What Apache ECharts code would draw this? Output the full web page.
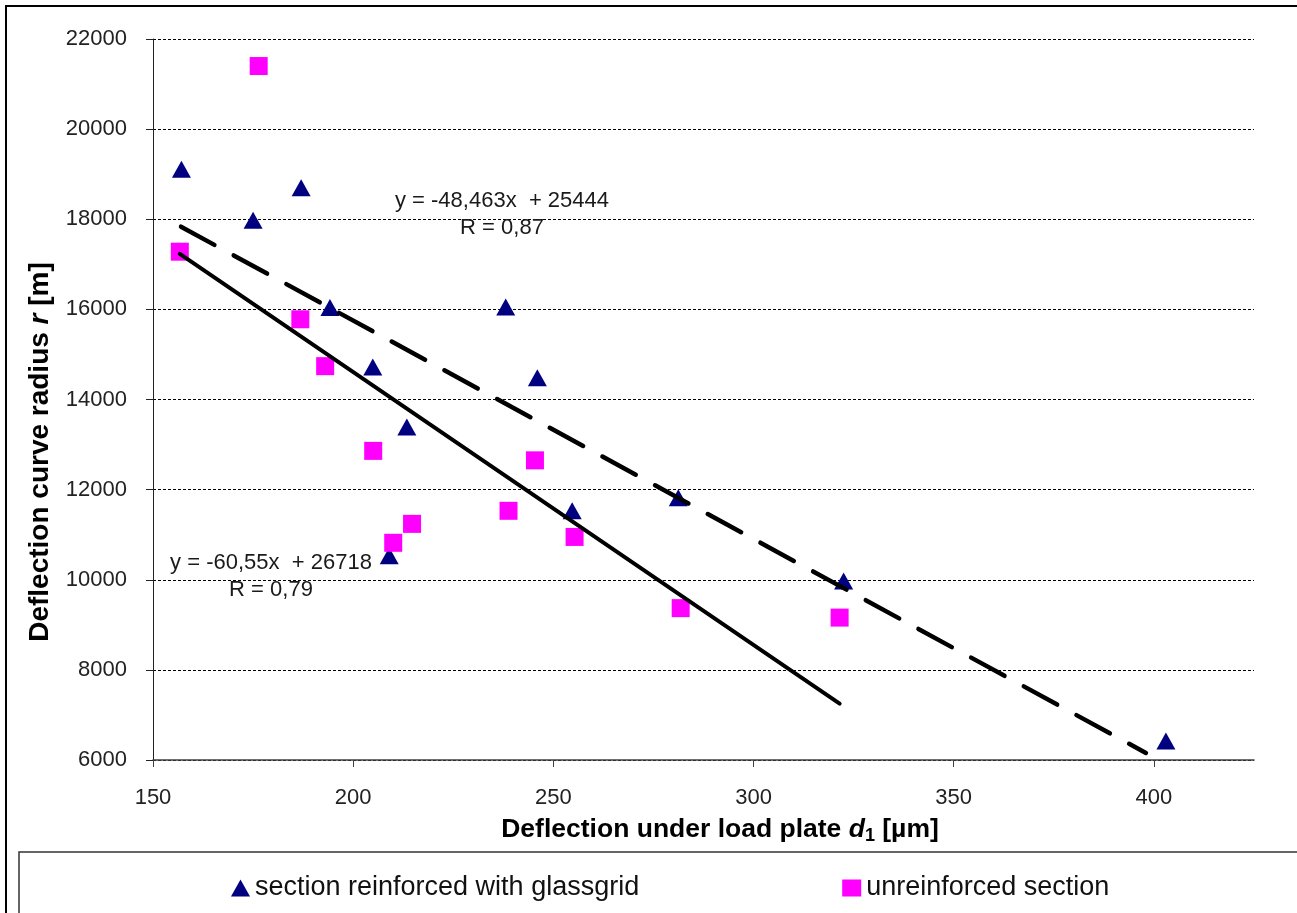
<!DOCTYPE html>
<html><head><meta charset="utf-8">
<script src="https://cdn.jsdelivr.net/npm/echarts@6/dist/echarts.min.js"></script>
<style>html,body{margin:0;padding:0;background:#fff}#chart{width:1297px;height:913px}</style>
</head><body><div id="chart"></div>
<script>
// ---- data ----
const reinforcedName = 'section reinforced with glassgrid';
const unreinforcedName = 'unreinforced section';
const reinforcedX = [157.1, 175.0, 187.0, 194.2, 204.9, 209.0, 213.4, 238.1, 246.0, 254.7, 281.2, 322.5, 403.0];
const reinforcedY = [19110, 17980, 18700, 16040, 14720, 10530, 13390, 16050, 14480, 11530, 11820, 9970, 6420];
const unreinforcedX = [156.7, 176.4, 186.8, 193.0, 205.0, 210.0, 214.7, 238.8, 245.4, 255.3, 281.8, 321.5];
const unreinforcedY = [17280, 21400, 15780, 14740, 12860, 10820, 11240, 11530, 12650, 10950, 9370, 9160];
const trendReinforcedCoef = [-48.463, 25444];   // slope, intercept (dashed)
const trendReinforcedRange = [157, 398];
const trendUnreinforcedCoef = [-60.55, 26718];  // slope, intercept (solid)
const trendUnreinforcedRange = [156.7, 321.5];
const eqReinforced = ['y = -48,463x  + 25444', 'R = 0,87'];
const eqUnreinforced = ['y = -60,55x  + 26718', 'R = 0,79'];
const xTicks = [150, 200, 250, 300, 350, 400];
const yTicks = [6000, 8000, 10000, 12000, 14000, 16000, 18000, 20000, 22000];

const FONT = '"Liberation Sans", Arial, sans-serif';
const zip = (xs, ys) => xs.map((x, i) => [x, ys[i]]);
const trend = (coef, range) => range.map(x => [x, coef[0] * x + coef[1]]);

const chart = echarts.init(document.getElementById('chart'), null, {renderer: 'canvas'});
chart.setOption({
  animation: false,
  backgroundColor: '#fff',
  grid: {left: 153, top: 39, right: 43, bottom: 153, containLabel: false},
  xAxis: {
    type: 'value', min: 150, max: 425, interval: 50,
    axisLine: {show: true, lineStyle: {color: '#404040', width: 1.5}},
    axisTick: {show: true, length: 7, customValues: xTicks, lineStyle: {color: '#404040', width: 1}},
    axisLabel: {customValues: xTicks, margin: 27, color: '#222', fontSize: 22, fontFamily: FONT,
                formatter: v => String(v)},
    splitLine: {show: false}
  },
  yAxis: {
    type: 'value', min: 6000, max: 22000, interval: 2000,
    axisLine: {show: true, lineStyle: {color: '#222', width: 1}},
    axisTick: {show: true, length: 7, customValues: yTicks, lineStyle: {color: '#222', width: 1}},
    axisLabel: {customValues: yTicks, margin: 26, color: '#222', fontSize: 22, fontFamily: FONT,
                formatter: v => String(v)},
    splitLine: {show: true, lineStyle: {color: '#000', width: 1, type: [3, 2]}}
  },
  legend: {
    data: [reinforcedName, unreinforcedName],
    left: 226, top: 869, itemGap: 203, itemWidth: 19, itemHeight: 17,
    textStyle: {fontSize: 27, fontFamily: FONT, color: '#111', lineHeight: 28}
  },
  series: [
    {name: reinforcedName, type: 'scatter', symbol: 'triangle', symbolSize: [19, 17], z: 2,
     itemStyle: {color: '#000080', opacity: 1}, data: zip(reinforcedX, reinforcedY)},
    {name: unreinforcedName, type: 'scatter', symbol: 'rect', symbolSize: 18, z: 2,
     itemStyle: {color: '#FF00FF', opacity: 1}, data: zip(unreinforcedX, unreinforcedY)},
    {name: 'trend reinforced', type: 'line', symbol: 'none', z: 4, silent: true,
     lineStyle: {color: '#000', width: 4.5, type: [38, 22], cap: 'round'},
     data: trend(trendReinforcedCoef, trendReinforcedRange)},
    {name: 'trend unreinforced', type: 'line', symbol: 'none', z: 4, silent: true,
     lineStyle: {color: '#000', width: 4, cap: 'round'},
     data: trend(trendUnreinforcedCoef, trendUnreinforcedRange)}
  ],
  graphic: [
    {type: 'rect', z: -10, shape: {x: 6, y: 6, width: 1400, height: 1000},
     style: {fill: 'none', stroke: '#000', lineWidth: 2}},
    {type: 'rect', z: -10, shape: {x: 19, y: 852, width: 1400, height: 200},
     style: {fill: 'none', stroke: '#333', lineWidth: 1.5}},
    {type: 'text', x: 502, y: 214, z: 10,
     style: {text: eqReinforced.join('\n'), fontSize: 22, fontFamily: FONT, fill: '#1a1a1a',
             align: 'center', verticalAlign: 'middle', lineHeight: 27}},
    {type: 'text', x: 271, y: 576, z: 10,
     style: {text: eqUnreinforced.join('\n'), fontSize: 22, fontFamily: FONT, fill: '#1a1a1a',
             align: 'center', verticalAlign: 'middle', lineHeight: 27}},
    {type: 'text', x: 720, y: 830, z: 10,
     style: {text: '{b|Deflection under load plate }{bi|d}{sub|1}{b| [µm]}',
             align: 'center', verticalAlign: 'middle',
             rich: {
               b: {fontSize: 26.5, fontWeight: 'bold', fontFamily: FONT, fill: '#000', lineHeight: 30},
               bi: {fontSize: 26.5, fontWeight: 'bold', fontStyle: 'italic', fontFamily: FONT, fill: '#000', lineHeight: 30},
               sub: {fontSize: 18, fontWeight: 'bold', fontFamily: FONT, fill: '#000', lineHeight: 30, verticalAlign: 'bottom'}
             }}},
    {type: 'text', x: 40, y: 452, rotation: Math.PI / 2, z: 10,
     style: {text: '{b|Deflection curve radius }{bi|r}{b| [m]}',
             align: 'center', verticalAlign: 'middle',
             rich: {
               b: {fontSize: 28, fontWeight: 'bold', fontFamily: FONT, fill: '#000', lineHeight: 32},
               bi: {fontSize: 28, fontWeight: 'bold', fontStyle: 'italic', fontFamily: FONT, fill: '#000', lineHeight: 32}
             }}}
  ]
});
</script></body></html>
